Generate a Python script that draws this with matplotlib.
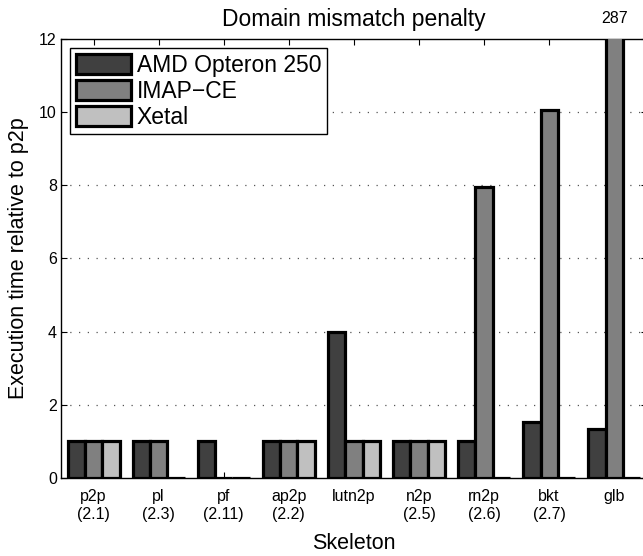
import matplotlib
matplotlib.use("Agg")
import matplotlib.pyplot as plt
import numpy as np

categories = ["p2p\n(2.1)", "pl\n(2.3)", "pf\n(2.11)", "ap2p\n(2.2)", "lutn2p",
              "n2p\n(2.5)", "rn2p\n(2.6)", "bkt\n(2.7)", "glb"]
series_names = ["AMD Opteron 250", "IMAP\u2212CE", "Xetal"]
amd = [1, 1, 1, 1, 4.0, 1, 1, 1.54, 1.34]
imap = [1, 1, 0, 1, 1, 1, 7.95, 10.05, 287]
xetal = [1, 0, 0, 1, 1, 1, 0, 0, 0]
yticks = [0, 2, 4, 6, 8, 10, 12]

plt.rcParams['font.family'] = ['Liberation Sans', 'DejaVu Sans']

fig = plt.figure(figsize=(6.43, 5.56), dpi=100)
ax = fig.add_axes([0.0949, 0.1403, 0.911, 0.7896])

colors = ["#404040", "#808080", "#c0c0c0"]
x = np.arange(1, len(categories) + 1)
w = 0.266
for i, (vals, c, name) in enumerate(zip([amd, imap, xetal], colors, series_names)):
    ax.bar(x + (i - 1) * w, vals, width=w, color=c, edgecolor="black",
           linewidth=2.3, label=name, zorder=3)

ax.set_xlim(0.5, 9.5)
ax.set_ylim(0, 12)
ax.set_yticks(yticks)
ax.set_xticks(x)
ax.set_xticklabels(categories, fontsize=11.5, linespacing=1.25)
ax.tick_params(axis='y', labelsize=11.5, direction='in', length=4, pad=3, right=True)
ax.tick_params(axis='x', direction='in', length=4, pad=8, top=True)

for yv in yticks[1:-1]:
    ax.axhline(yv, color="#555555", linewidth=0.9, dashes=(1, 6), zorder=1)

for s in ax.spines.values():
    s.set_linewidth(1.0)

# value label for clipped bar
big = int(np.argmax(imap))
ax.annotate(str(imap[big]), xy=(x[big], 12), xytext=(0, 9), textcoords="offset points",
            ha="center", va="bottom", fontsize=11.5, annotation_clip=False)

ax.set_title("Domain mismatch penalty", fontsize=16.5, pad=9)
ax.set_xlabel("Skeleton", fontsize=15.5)
ax.set_ylabel("Execution time relative to p2p", fontsize=15.5)
ax.yaxis.set_label_coords(-0.055, 0.5)
ax.xaxis.set_label_coords(0.5, -0.125)

leg = ax.legend(loc="upper left", bbox_to_anchor=(0.0, 1.0), borderaxespad=0.4,
                fontsize=16.5, fancybox=False, framealpha=1, edgecolor="black",
                handlelength=2.4, handleheight=1.0, handletextpad=0.25,
                labelspacing=0.12, borderpad=0.25)
leg.get_frame().set_linewidth(1.0)
for p in leg.get_patches():
    p.set_linewidth(2.3)

fig.savefig("out.png", dpi=100)
